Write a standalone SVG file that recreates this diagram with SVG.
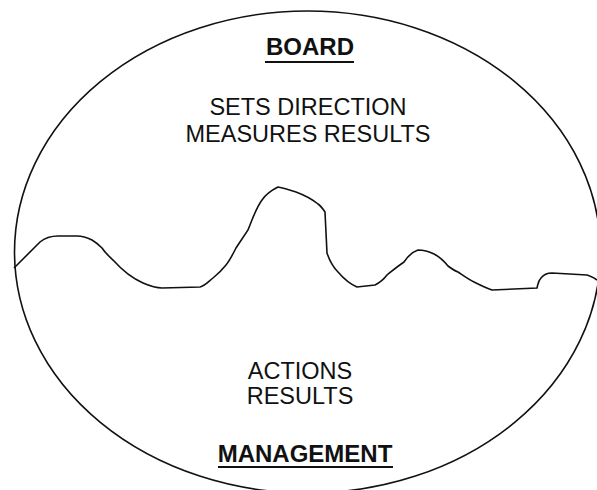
<svg xmlns="http://www.w3.org/2000/svg" width="597" height="490" viewBox="0 0 597 490">
  <style>
    .outline { fill: none; stroke: #111; stroke-width: 1.6; }
    .label { font-family: "Liberation Sans", Arial, sans-serif; font-size: 23.5px; fill: #111; text-anchor: middle; }
    .title { font-family: "Liberation Sans", Arial, sans-serif; font-size: 24px; font-weight: bold; fill: #111; text-anchor: middle; }
    .rule { stroke: #111; stroke-width: 2; }
  </style>
  <rect width="597" height="490" fill="#fff"/>

  <!-- outer boundary -->
  <g id="boundary">
    <ellipse class="outline" cx="307.5" cy="252" rx="293" ry="241"/>
  </g>

  <!-- dividing line between the two areas -->
  <g id="divider">
    <path class="outline" d="M14,268 C24,258 34,248 40,242 C46,237 52,236 58,236 L77,236 C84,236 88,238 92,240 C97,243 100,246 102,248 C106,254 110,257 114,261 C122,270 132,278 143,283 C150,286 155,288 162,288 L200,287 C205,286 208,282 213,278 C218,274 222,270 226,265 C230,260 233,254 236,248 C240,242 244,236 248,230 C252,220 256,208 262,200 C266,194 270,191 278,187 C284,188 290,190 296,192 C304,195 312,199 318,204 C321,206 323,209 325,212 L327,253 C330,262 334,268 338,272 C344,279 350,284 357,287 L375,285 C381,282 384,279 387,275 C392,271 398,266 404,262 C408,256 412,252 418,250 C424,250 430,252 434,254 C440,257 444,261 448,266 C452,269 455,271 458,272 C464,276 468,279 474,282 C480,285 486,288 492,290 L537,288 C538,284 538,281 541,278 C544,274 547,273 552,273 L587,275 C591,276 594,278 597,280"/>
  </g>

  <g id="board">
    <text class="title" x="310" y="55">BOARD</text>
    <line class="rule" x1="265" y1="62" x2="354" y2="62"/>
    <text class="label" x="308" y="115">SETS DIRECTION</text>
    <text class="label" x="308" y="142">MEASURES RESULTS</text>
  </g>

  <g id="management">
    <text class="label" x="300" y="379">ACTIONS</text>
    <text class="label" x="300" y="404">RESULTS</text>
    <text class="title" x="305" y="462">MANAGEMENT</text>
    <line class="rule" x1="218" y1="467" x2="393" y2="467"/>
  </g>
</svg>
